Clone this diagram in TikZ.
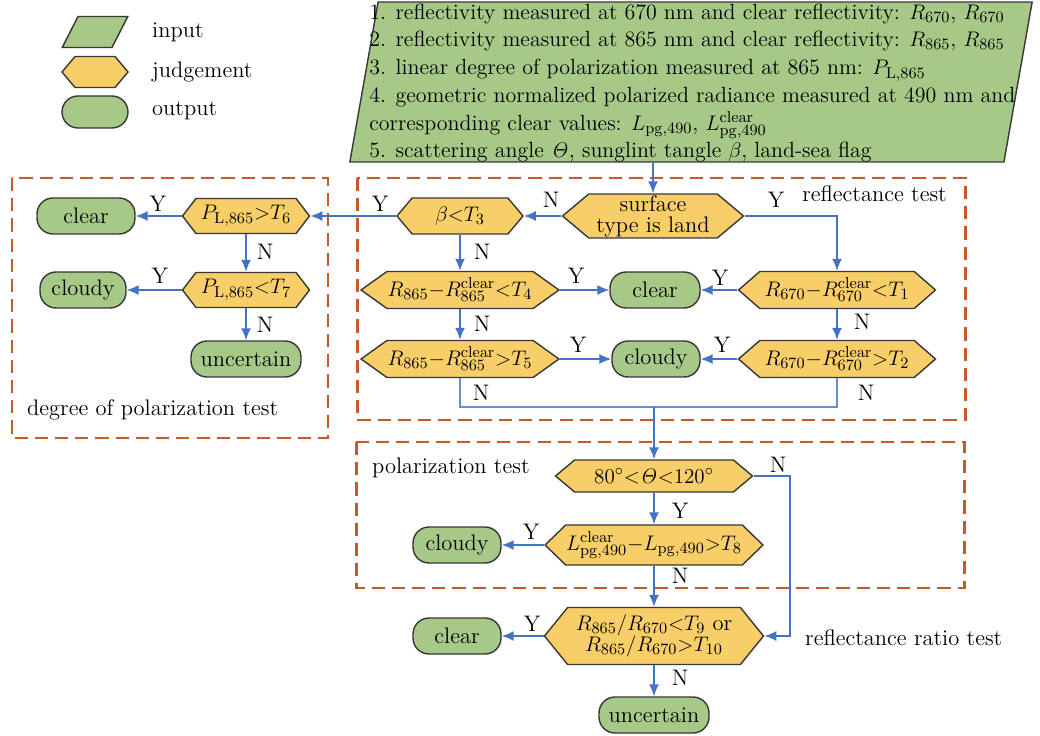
\documentclass[tikz,border=0pt]{standalone}
\usetikzlibrary{shapes.geometric,shapes.symbols,arrows.meta}
\definecolor{ingreen}{RGB}{166,201,135}
\definecolor{judgeyel}{RGB}{248,206,104}
\definecolor{flowblue}{RGB}{68,114,196}
\definecolor{boxred}{RGB}{197,90,40}
\definecolor{edgegray}{RGB}{55,55,55}
\begin{document}
\begin{tikzpicture}[x=0.02cm, y=-0.02cm, font=\fontsize{12.8}{15}\selectfont,
    inbox/.style={trapezium, draw=edgegray, fill=ingreen, line width=0.8pt, inner sep=0pt},
    judge/.style={signal, signal to=west and east, draw=edgegray, fill=judgeyel, line width=0.8pt, inner sep=0pt, align=center},
    outbox/.style={rectangle, rounded corners=0.32cm, draw=edgegray, fill=ingreen, line width=0.8pt, inner sep=0pt, minimum height=0.72cm},
    flow/.style={flowblue, line width=0.9pt, -{Latex[length=2.4mm,width=2mm]}},
    link/.style={flowblue!80, line width=0.7pt},
    testbox/.style={boxred, line width=1.7pt, dash pattern=on 7.5pt off 4pt},
    yn/.style={inner sep=1pt}]
    \useasboundingbox (0,0) rectangle (1040,736);

    % legend
    \node[inbox, trapezium left angle=63, trapezium right angle=117] (legin) at (95,32) {\rule{0.68cm}{0pt}\rule[-0.31cm]{0pt}{0.62cm}};
    \node[judge, signal pointer angle=100, minimum width=1.32cm, minimum height=0.62cm] (legjudge) at (95,72) {};
    \node[outbox, minimum width=1.32cm, minimum height=0.64cm] (legout) at (95,112) {};
    \node[anchor=west] (leginlbl) at (146,32) {input};
    \node[anchor=west] (legjudgelbl) at (146,72) {judgement};
    \node[anchor=west] (legoutlbl) at (146,111) {output};

    % input
    \node[inbox, trapezium left angle=80, trapezium right angle=100] (input) at (691,82) {\rule{12.52cm}{0pt}\rule[-1.6cm]{0pt}{3.2cm}};
    \node[anchor=west, align=left, inner sep=0pt, font=\fontsize{12.5}{15.8}\selectfont] (inputtext) at (369,83) {%
        1. reflectivity measured at 670 nm and clear reflectivity: $R_{670}$, $R_{670}$\\
        2. reflectivity measured at 865 nm and clear reflectivity: $R_{865}$, $R_{865}$\\
        3. linear degree of polarization measured at 865 nm: $P_{\mathrm{L},865}$\\
        4. geometric normalized polarized radiance measured at 490 nm and\\
        corresponding clear values: $L_{\mathrm{pg},490}$, $L_{\mathrm{pg},490}^{\mathrm{clear}}$\\
        5. scattering angle $\mathit{\Theta}$, sunglint tangle $\beta$, land-sea flag};

    % test regions
    \draw[testbox] (357,178) rectangle (965,420);
    \draw[testbox] (12,178) rectangle (328,438);
    \draw[testbox] (356,442) rectangle (964,588);
    \node[anchor=east] (refltest) at (953,194) {reflectance test};
    \node[anchor=west] (doptest) at (21,410) {degree of polarization test};
    \node[anchor=west] (poltest) at (366,468) {polarization test};
    \node[anchor=west] (ratiotest) at (799,638) {reflectance ratio test};

    % judgements
    \node[judge, signal pointer angle=80, minimum width=3.62cm, minimum height=0.88cm] (surf) at (653,216) {surface\\[-3pt]type is land};
    \node[judge, signal pointer angle=100, minimum width=2.52cm, minimum height=0.72cm] (beta) at (460,216) {$\beta{<}T_3$};
    \node[judge, signal pointer angle=105, minimum width=2.54cm, minimum height=0.7cm] (pa) at (246,216) {$P_{\mathrm{L},865}{>}T_6$};
    \node[judge, signal pointer angle=105, minimum width=2.54cm, minimum height=0.7cm] (pb) at (246,290) {$P_{\mathrm{L},865}{<}T_7$};
    \node[judge, signal pointer angle=71, minimum width=3.96cm, minimum height=0.74cm] (rb4) at (460,290) {$R_{865}{-}R_{865}^{\mathrm{clear}}{<}T_4$};
    \node[judge, signal pointer angle=71, minimum width=3.96cm, minimum height=0.74cm] (rb5) at (460,359) {$R_{865}{-}R_{865}^{\mathrm{clear}}{>}T_5$};
    \node[judge, signal pointer angle=82, minimum width=3.94cm, minimum height=0.74cm] (ra1) at (837,290) {$R_{670}{-}R_{670}^{\mathrm{clear}}{<}T_1$};
    \node[judge, signal pointer angle=82, minimum width=3.94cm, minimum height=0.74cm] (ra2) at (837,359) {$R_{670}{-}R_{670}^{\mathrm{clear}}{>}T_2$};
    \node[judge, signal pointer angle=80, minimum width=3.94cm, minimum height=0.64cm] (theta) at (654,476) {$80^\circ{<}\mathit{\Theta}{<}120^\circ$};
    \node[judge, signal pointer angle=88, minimum width=4.36cm, minimum height=0.8cm] (lpg) at (654,545) {$L_{\mathrm{pg},490}^{\mathrm{clear}}{-}L_{\mathrm{pg},490}{>}T_8$};
    \node[judge, signal pointer angle=102, minimum width=4.38cm, minimum height=1.14cm] (ratio) at (654,636) {$R_{865}/R_{670}{<}T_9$ or\\[-3pt]$R_{865}/R_{670}{>}T_{10}$};

    % outputs
    \node[outbox, minimum width=1.96cm] (cleara) at (86,216) {clear};
    \node[outbox, minimum width=1.72cm] (cloudya) at (83,290) {cloudy};
    \node[outbox, minimum width=2.2cm] (unca) at (246,359) {uncertain};
    \node[outbox, minimum width=1.8cm] (clearb) at (655,290) {clear};
    \node[outbox, minimum width=1.76cm] (cloudyb) at (656,359) {cloudy};
    \node[outbox, minimum width=1.76cm] (cloudyc) at (457,545) {cloudy};
    \node[outbox, minimum width=1.76cm] (clearc) at (457,636) {clear};
    \node[outbox, minimum width=2.2cm] (uncc) at (654,715) {uncertain};

    \coordinate (merge) at (654,407);
    \coordinate (thetaturn) at (790,476);

    % connectors
    \draw[flow] (surf.north |- input.south) -- (surf.north);
    \draw[flow] (surf.west) -- (beta.east);
    \draw[flow] (surf.east) -| (ra1.north);
    \draw[flow] (beta.west) -- (pa.east);
    \draw[flow] (pa.west) -- (cleara.east);
    \draw[flow] (pa.south) -- (pb.north);
    \draw[flow] (pb.west) -- (cloudya.east);
    \draw[flow] (pb.south) -- (unca.north);
    \draw[flow] (beta.south) -- (rb4.north);
    \draw[flow] (rb4.east) -- (clearb.west);
    \draw[flow] (ra1.west) -- (clearb.east);
    \draw[flow] (rb4.south) -- (rb5.north);
    \draw[flow] (ra1.south) -- (ra2.north);
    \draw[flow] (rb5.east) -- (cloudyb.west);
    \draw[flow] (ra2.west) -- (cloudyb.east);
    \draw[link] (rb5.south) |- (merge) -| (ra2.south);
    \draw[flow] (merge) -- (theta.north);
    \draw[flow] (theta.south) -- (lpg.north);
    \draw[flow] (lpg.west) -- (cloudyc.east);
    \draw[flow] (lpg.south) -- (ratio.north);
    \draw[flow] (ratio.west) -- (clearc.east);
    \draw[flow] (ratio.south) -- (uncc.north);
    \draw[flow] (theta.east) -- (thetaturn) |- (ratio.east);

    % Y / N labels
    \node[yn] (n1) at (551,200) {N};
    \node[yn] (y1) at (776,200) {Y};
    \node[yn] (y2) at (380,204) {Y};
    \node[yn] (y3) at (158,204) {Y};
    \node[yn] (n2) at (265,252) {N};
    \node[yn] (y4) at (160,276) {Y};
    \node[yn] (n3) at (265,325) {N};
    \node[yn] (n4) at (482,252) {N};
    \node[yn] (y5) at (576,276) {Y};
    \node[yn] (y6) at (720,278) {Y};
    \node[yn] (n5) at (482,324) {N};
    \node[yn] (n6) at (862,322) {N};
    \node[yn] (y7) at (578,345) {Y};
    \node[yn] (y8) at (722,345) {Y};
    \node[yn] (n7) at (481,393) {N};
    \node[yn] (n8) at (866,393) {N};
    \node[yn] (n9) at (778,465) {N};
    \node[yn] (y9) at (680,511) {Y};
    \node[yn] (y10) at (531,532) {Y};
    \node[yn] (n10) at (680,576) {N};
    \node[yn] (y11) at (532,624) {Y};
    \node[yn] (n11) at (680,678) {N};
\end{tikzpicture}
\end{document}
